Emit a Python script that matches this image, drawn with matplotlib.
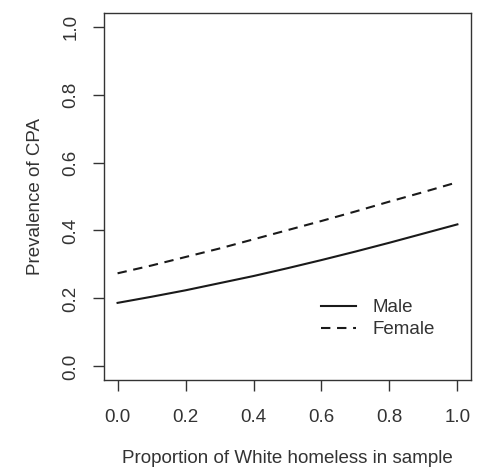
import matplotlib.pyplot as plt
import numpy as np

plt.rcParams['font.family'] = ['Liberation Sans', 'DejaVu Sans']

# proportion of White homeless in sample
prop_white = [0.0, 0.1, 0.2, 0.3, 0.4, 0.5, 0.6, 0.7, 0.8, 0.9, 1.0]

# predicted prevalence of CPA
male = [0.187, 0.205, 0.224, 0.245, 0.266, 0.289, 0.313, 0.338, 0.364, 0.391, 0.418]
female = [0.274, 0.297, 0.322, 0.347, 0.374, 0.401, 0.428, 0.456, 0.485, 0.513, 0.542]

ticks = [0.0, 0.2, 0.4, 0.6, 0.8, 1.0]
tick_labels = ['0.0', '0.2', '0.4', '0.6', '0.8', '1.0']

txt = '#333333'
fs = 13.5

fig = plt.figure(figsize=(4.9, 4.73), dpi=100)
ax = fig.add_axes([0.2122, 0.1966, 0.7490, 0.7759])

ax.plot(prop_white, male, color='#1a1a1a', lw=1.5, label='Male')
ax.plot(prop_white, female, color='#1a1a1a', lw=1.5, dashes=(4.5, 3.2), label='Female')

ax.set_xlim(-0.04, 1.04)
ax.set_ylim(-0.04, 1.04)

ax.set_xticks(ticks)
ax.set_xticklabels(tick_labels)
ax.set_yticks(ticks)
ax.set_yticklabels(tick_labels, rotation=90, va='center')

ax.tick_params(direction='out', length=8, width=1, color='#333333',
               labelsize=fs, labelcolor=txt)
ax.tick_params(axis='x', pad=13)
ax.tick_params(axis='y', pad=9.5)

for s in ax.spines.values():
    s.set_color('#333333')
    s.set_linewidth(1)

ax.set_xlabel('Proportion of White homeless in sample', fontsize=fs, color=txt)
ax.xaxis.set_label_coords(0.5, -70 / 367)
ax.set_ylabel('Prevalence of CPA', fontsize=fs, color=txt)
ax.yaxis.set_label_coords(-60 / 367, 0.5)

leg = ax.legend(loc='upper left', bbox_to_anchor=(0.591, 0.22), frameon=False,
                fontsize=fs, borderpad=0, borderaxespad=0, handlelength=1.85,
                handletextpad=0.9, labelspacing=0.25)
for t in leg.get_texts():
    t.set_color(txt)

fig.savefig('out.png', dpi=100)
